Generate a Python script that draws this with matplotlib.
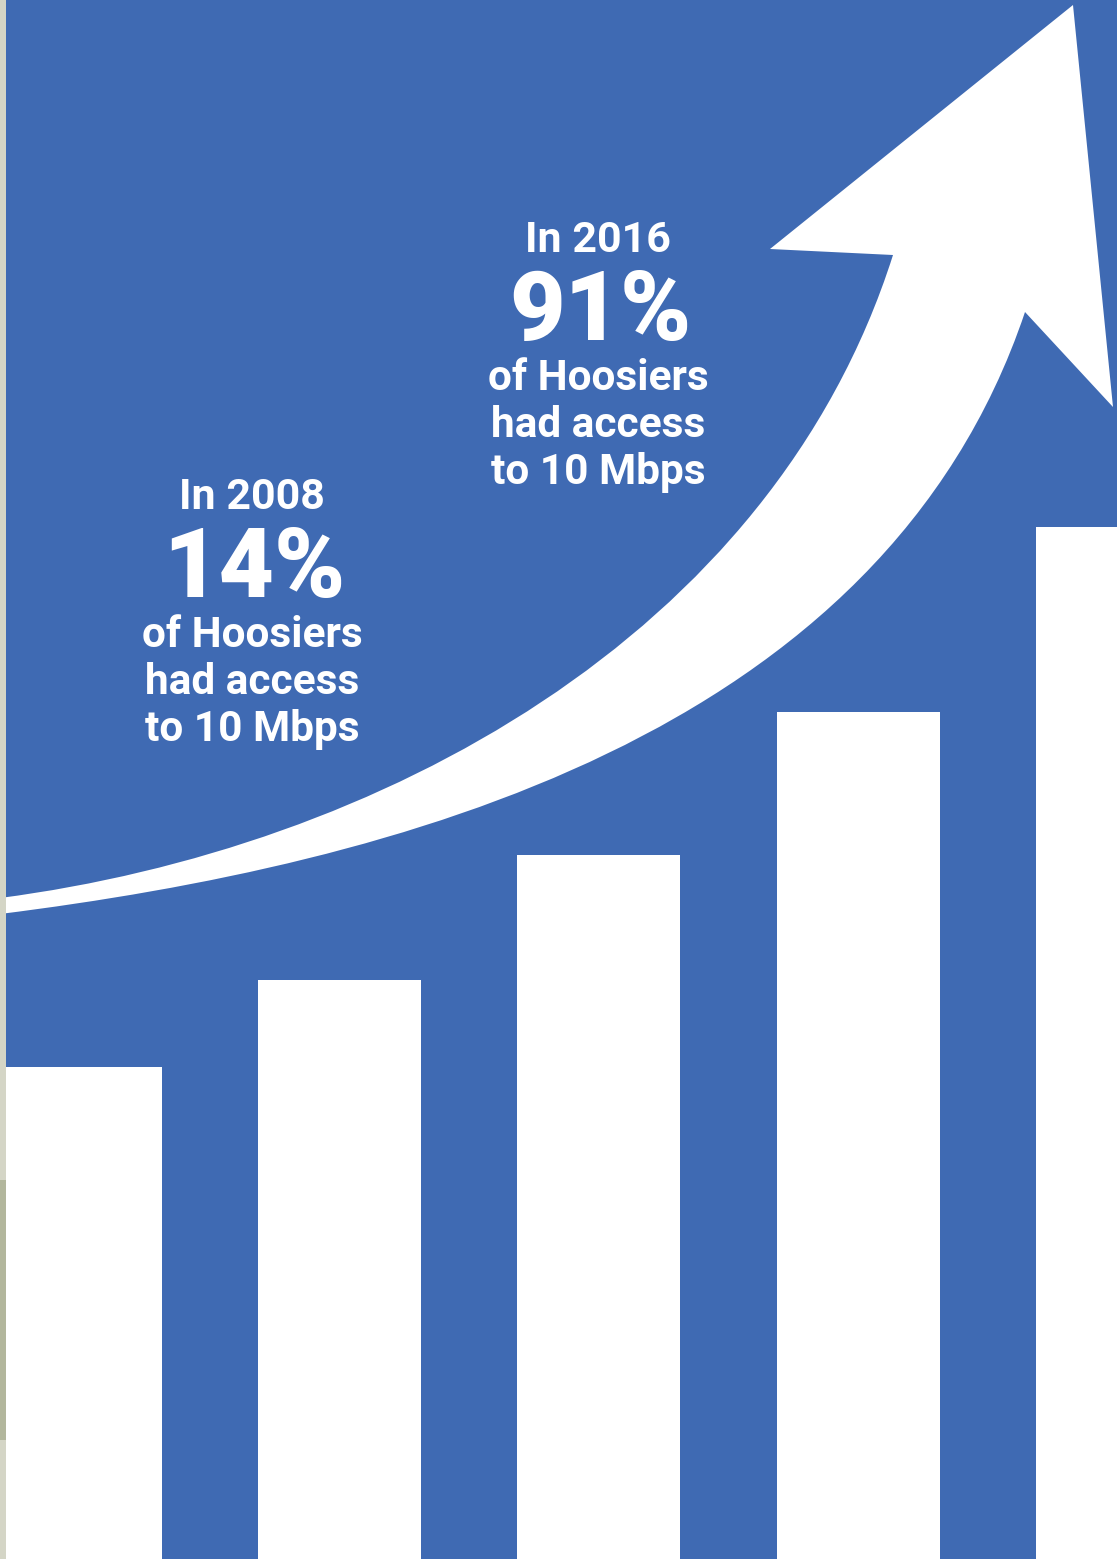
import matplotlib
matplotlib.use("Agg")
import matplotlib.pyplot as plt
from matplotlib.patches import PathPatch, Rectangle
from matplotlib.path import Path
import numpy as np

# bar heights (relative units, top of canvas = 1559)
years = ["2008", "2010", "2012", "2014", "2016"]
heights = [492, 579, 704, 847, 1032]

# callout texts
left_year = "In 2008"
left_pct = "14%"
right_year = "In 2016"
right_pct = "91%"
body_lines = ["of Hoosiers", "had access", "to 10 Mbps"]

BLUE = "#3f6ab3"
W, H = 1117, 1559

fig = plt.figure(figsize=(W / 100, H / 100), dpi=100)
fig.patch.set_facecolor(BLUE)

# bars
ax = fig.add_axes([0, 0, 1, 1])
ax.set_facecolor(BLUE)
ax.bar(range(len(years)), heights, width=0.6287, color="white", linewidth=0)
ax.set_xlim(-0.3096, 3.999)
ax.set_ylim(0, H)
ax.axis("off")

# overlay in pixel coordinates for the arrow and the text
ov = fig.add_axes([0, 0, 1, 1])
ov.set_xlim(0, W)
ov.set_ylim(H, 0)
ov.patch.set_alpha(0)
ov.axis("off")

# arrow outline: points traced along both edges, plus a straight head
upper = [(0, 898), (100, 875), (200, 848), (300, 822), (360, 805),
         (400, 786), (450, 760), (500, 730), (550, 694), (600, 660),
         (650, 618), (683, 588), (700, 571), (750, 518), (780, 480),
         (820, 413), (860, 340), (893, 255)]
head = [(770, 249), (1073, 5), (1113, 407), (1025, 312)]
lower = [(1025, 312), (997, 380), (963, 440), (933, 493), (897, 540),
         (850, 587), (800, 633), (750, 674), (683, 718), (600, 757),
         (550, 779), (500, 800), (450, 818), (400, 834), (300, 858),
         (200, 878), (100, 897), (0, 914)]


def bezier_controls(pts):
    # one cubic bezier through the end points, fitted to the traced ones
    p = np.array(pts, dtype=float)
    d = np.r_[0, np.cumsum(np.hypot(*np.diff(p, axis=0).T))]
    t = d / d[-1]
    b0, b1 = (1 - t) ** 3, 3 * t * (1 - t) ** 2
    b2, b3 = 3 * t ** 2 * (1 - t), t ** 3
    rhs = p - np.outer(b0, p[0]) - np.outer(b3, p[-1])
    ctrl, *_ = np.linalg.lstsq(np.c_[b1, b2], rhs, rcond=None)
    return [tuple(ctrl[0]), tuple(ctrl[1]), tuple(p[-1])]


verts = [upper[0]] + bezier_controls(upper) + head
codes = [Path.MOVETO] + [Path.CURVE4] * 3 + [Path.LINETO] * len(head)
verts += bezier_controls(lower) + [upper[0]]
codes += [Path.CURVE4] * 3 + [Path.CLOSEPOLY]
ov.add_patch(PathPatch(Path(verts, codes), facecolor="white", edgecolor="none", zorder=3))

# strip of background photo on the left edge
ov.add_patch(Rectangle((0, 0), 6, H, facecolor="#d4d5c6", edgecolor="none", zorder=5))
ov.add_patch(Rectangle((0, 1180), 6, 260, facecolor="#b2b69c", edgecolor="none", zorder=5))

font = ["Roboto", "DejaVu Sans"]


def callout(x, y0, year, pct):
    ov.text(x, y0, year, ha="center", va="baseline", color="white",
            fontsize=31, fontweight="bold", family=font, zorder=4)
    ov.text(x + 2, y0 + 88, pct, ha="center", va="baseline", color="white",
            fontsize=69, fontweight="black", family=font, zorder=4)
    for i, line in enumerate(body_lines):
        ov.text(x, y0 + 138 + i * 47, line, ha="center", va="baseline",
                color="white", fontsize=30.5, fontweight="bold", family=font, zorder=4)


callout(252, 509, left_year, left_pct)
callout(598, 252, right_year, right_pct)

fig.savefig("out.png", dpi=100, facecolor=BLUE)
